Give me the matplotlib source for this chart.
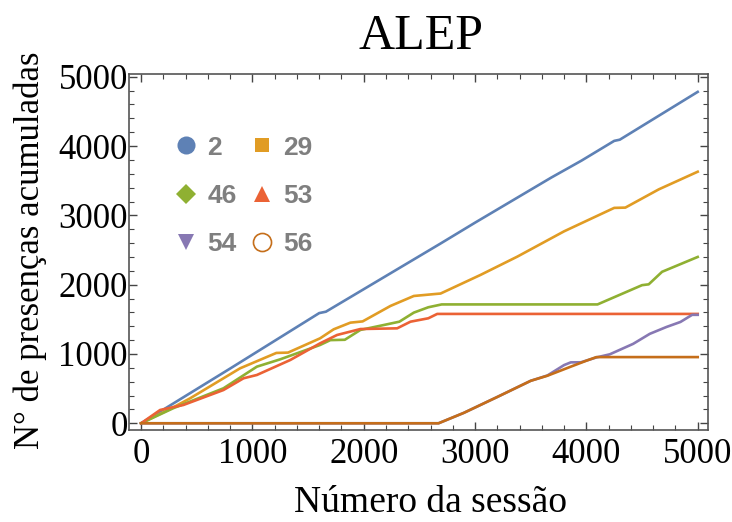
import matplotlib
matplotlib.use("Agg")
import matplotlib.pyplot as plt
from matplotlib.lines import Line2D
from matplotlib.ticker import MultipleLocator

# ---- data ----
labels = ["2", "29", "46", "53", "54", "56"]
colors = ["#5E81B5", "#E19C24", "#8FB032", "#EB6235", "#8778B3", "#C56E1A"]
markers = ["o", "s", "D", "^", "v", "o"]

x_2 = [0, 800, 1600, 1660, 2686, 3000, 3684, 3956, 4250, 4300, 5000]
y_2 = [0, 790, 1590, 1610, 2590, 2895, 3545, 3790, 4075, 4092, 4782]

x_29 = [0, 290, 440, 889, 1215, 1320, 1608, 1730, 1880, 1990, 2240, 2450, 2660, 2690,
        3048, 3380, 3800, 4250, 4350, 4650, 5000]
y_29 = [0, 231, 360, 793, 1015, 1020, 1226, 1356, 1452, 1470, 1693, 1837, 1868, 1872,
        2140, 2405, 2770, 3108, 3112, 3375, 3630]

x_46 = [0, 290, 740, 1040, 1250, 1608, 1700, 1830, 1970, 2180, 2320, 2450, 2580, 2700,
        4100, 4500, 4560, 4680, 5000]
y_46 = [0, 218, 505, 817, 923, 1130, 1200, 1205, 1347, 1418, 1466, 1597, 1674, 1715,
        1715, 1993, 2005, 2186, 2400]

x_53 = [0, 171, 380, 740, 920, 1040, 1340, 1608, 1760, 1970, 2300, 2420, 2580, 2660, 5000]
y_53 = [0, 192, 264, 480, 649, 697, 913, 1154, 1274, 1360, 1370, 1466, 1515, 1578, 1578]

x_54 = [0, 2672, 2900, 3200, 3500, 3650, 3800, 3860, 3950, 4090, 4210, 4420, 4570, 4720,
        4845, 4950, 5000]
y_54 = [0, 0, 151, 380, 613, 690, 840, 879, 880, 950, 995, 1146, 1291, 1390,
        1462, 1565, 1565]

x_56 = [0, 2672, 2900, 3200, 3500, 3650, 3860, 4000, 4090, 5000]
y_56 = [0, 0, 151, 380, 613, 686, 817, 903, 955, 955]

xs = [x_2, x_29, x_46, x_53, x_54, x_56]
ys = [y_2, y_29, y_46, y_53, y_54, y_56]

title = "ALEP"
xlabel = "Número da sessão"
ylabel = "N° de presenças acumuladas"

# ---- figure ----
serif = ["Liberation Serif", "DejaVu Serif"]
fig = plt.figure(figsize=(7.32, 5.22), dpi=100)
ax = fig.add_axes([129.3 / 732, 1 - 430 / 522, 578.2 / 732, 356 / 522])

for x, y, c in zip(xs, ys, colors):
    ax.plot(x, y, color=c, lw=1.9, solid_joinstyle="round")

ax.set_xlim(-106, 5088)
ax.set_ylim(-97, 5040)

ax.xaxis.set_major_locator(MultipleLocator(1000))
ax.xaxis.set_minor_locator(MultipleLocator(200))
ax.yaxis.set_major_locator(MultipleLocator(1000))
ax.yaxis.set_minor_locator(MultipleLocator(200))
ax.tick_params(which="both", direction="in", top=True, right=True, color="#444444")
ax.tick_params(which="major", length=6, width=1.0)
ax.tick_params(which="minor", length=3.5, width=0.8)
ax.tick_params(axis="x", which="major", pad=6)
ax.tick_params(axis="y", which="major", pad=1)
for lab in ax.get_xticklabels() + ax.get_yticklabels():
    lab.set_family(serif)
    lab.set_fontsize(25)
for s in ax.spines.values():
    s.set_color("#555555")
    s.set_linewidth(1.2)

fig.text(421 / 732, 1 - 37 / 522, title, family=serif, fontsize=36, ha="center", va="center")
fig.text(430 / 732, 1 - 503 / 522, xlabel, family=serif, fontsize=27, ha="center", va="center")
fig.text(30 / 732, 1 - 250 / 522, ylabel, family=serif, fontsize=25, ha="center", va="center",
         rotation=90)

# legend (column-wise fill: 2,46,54 | 29,53,56)
order = [0, 2, 4, 1, 3, 5]
sizes = [13, 10.5, 10, 12, 12, 13]
handles = []
for i in order:
    if i == 5:
        h = Line2D([], [], ls="none", marker=markers[i], markersize=sizes[i],
                   markerfacecolor="none", markeredgecolor=colors[i], markeredgewidth=1.2)
    else:
        h = Line2D([], [], ls="none", marker=markers[i], markersize=sizes[i],
                   markerfacecolor=colors[i], markeredgecolor=colors[i], markeredgewidth=0)
    handles.append(h)
leg = ax.legend(handles, [labels[i] for i in order], ncol=2, loc="upper left",
                bbox_to_anchor=(0.053, 0.864), frameon=False, handlelength=1.0,
                handletextpad=0.3, columnspacing=0.45, labelspacing=0.92, borderpad=0,
                prop={"family": ["Liberation Sans", "DejaVu Sans"], "weight": "bold", "size": 19},
                labelcolor="#7F7F7F")

fig.savefig("out.png", dpi=100)
